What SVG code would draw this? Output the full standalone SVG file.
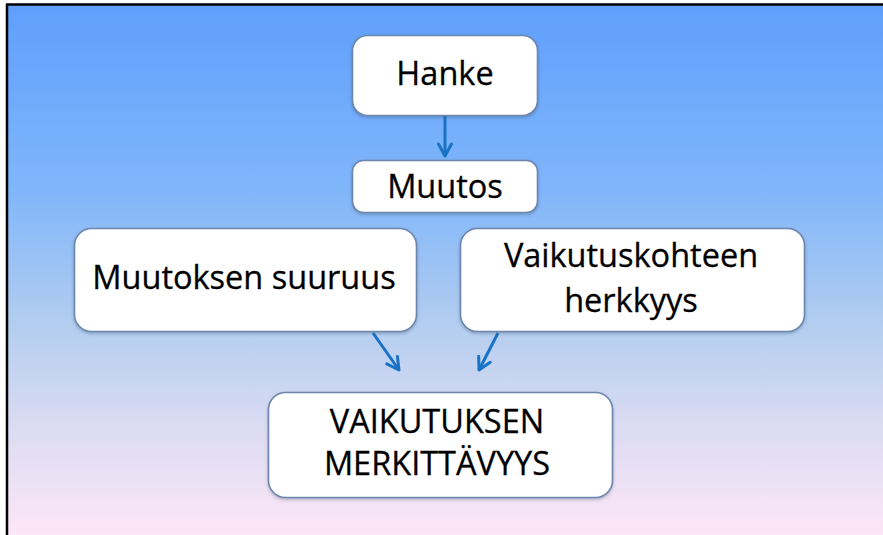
<svg xmlns="http://www.w3.org/2000/svg" width="883" height="535" viewBox="0 0 883 535">
<defs>
<linearGradient id="bg" x1="0" y1="0" x2="0" y2="1">
<stop offset="0" stop-color="#5f9ffc"/>
<stop offset="0.35" stop-color="#80b6fa"/>
<stop offset="0.6" stop-color="#b2cdf0"/>
<stop offset="0.8" stop-color="#dcdcf2"/>
<stop offset="1" stop-color="#fde6f7"/>
</linearGradient>
<marker id="ah" viewBox="0 0 16 16" refX="14" refY="8" markerWidth="16" markerHeight="16" markerUnits="userSpaceOnUse" orient="auto">
<path d="M2,1.5 L14,8 L2,14.5" fill="none" stroke="#1a72c4" stroke-width="3" stroke-linecap="round" stroke-linejoin="round"/>
</marker>
<filter id="sh" x="-10%" y="-10%" width="120%" height="130%">
<feDropShadow dx="0" dy="1.5" stdDeviation="1.5" flood-color="#304060" flood-opacity="0.35"/>
</filter>
</defs>
<style>
.box{fill:#ffffff;stroke:#6c86ae;stroke-width:1.6;filter:url(#sh)}
.t{font-family:"Open Sans","Liberation Sans",sans-serif;font-size:32.5px;fill:#000000;stroke:#000000;stroke-width:0.3;text-anchor:middle}
.c{fill:none;stroke:#1a72c4;stroke-width:3;marker-end:url(#ah)}
</style>
<rect x="0" y="0" width="883" height="535" fill="#ffffff"/>
<rect x="7" y="5" width="876" height="530" fill="url(#bg)"/>
<line x1="6" y1="4.5" x2="883" y2="4.5" stroke="#000" stroke-width="2.5"/>
<line x1="7" y1="4" x2="7" y2="535" stroke="#000" stroke-width="2.5"/>
<g id="connectors">
<line class="c" x1="445" y1="116" x2="445" y2="156"/>
<line class="c" x1="373" y1="333" x2="399" y2="370"/>
<line class="c" x1="498" y1="333" x2="479" y2="370"/>
</g>
<g id="hanke">
<rect class="box" x="352.5" y="35.5" width="185" height="80" rx="15"/>
<text class="t" x="445" y="85">Hanke</text>
</g>
<g id="muutos">
<rect class="box" x="352.5" y="160.5" width="185" height="52" rx="11"/>
<text class="t" x="445" y="198">Muutos</text>
</g>
<g id="muutoksen-suuruus">
<rect class="box" x="74.5" y="228.5" width="342" height="103" rx="17"/>
<text class="t" x="244" y="289">Muutoksen suuruus</text>
</g>
<g id="vaikutuskohteen-herkkyys">
<rect class="box" x="460.5" y="228.5" width="344" height="103" rx="17"/>
<text class="t" x="631" y="267">Vaikutuskohteen</text>
<text class="t" x="631" y="312">herkkyys</text>
</g>
<g id="vaikutuksen-merkittavyys">
<rect class="box" x="268.5" y="392.5" width="344" height="105" rx="17"/>
<text class="t" x="437" y="433">VAIKUTUKSEN</text>
<text class="t" x="437" y="475">MERKITTÄVYYS</text>
</g>
</svg>
